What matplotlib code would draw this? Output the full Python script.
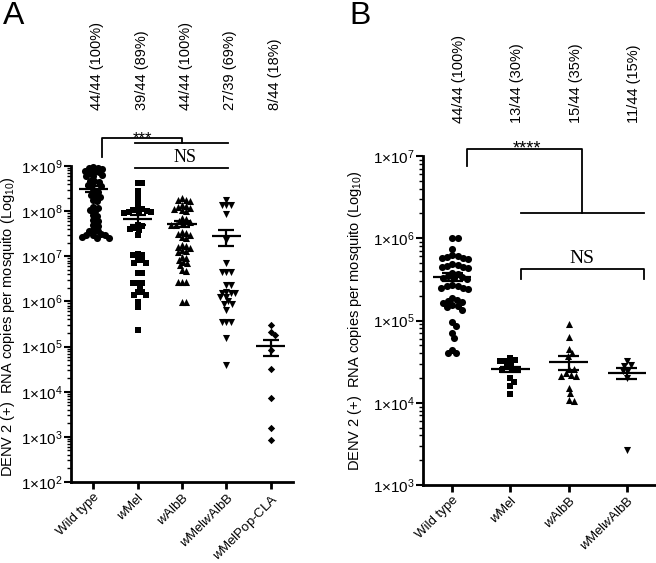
import numpy as np
import matplotlib.pyplot as plt

plt.rcParams['font.family'] = 'Liberation Sans'
plt.rcParams['mathtext.fontset'] = 'custom'
plt.rcParams['mathtext.rm'] = 'Liberation Sans'
plt.rcParams['mathtext.it'] = 'Liberation Sans:italic'

# ---- data (RNA copies per mosquito) ----
groups_a = ['Wild type', r'$\mathit{w}$Mel', r'$\mathit{w}$AlbB', r'$\mathit{w}$Mel$\mathit{w}$AlbB',
            r'$\mathit{w}$MelPop-CLA']
counts_a = ['44/44 (100%)', '39/44 (89%)', '44/44 (100%)', '27/39 (69%)', '8/44 (18%)']

wt_a = [9.4e8, 9.2e8, 9.0e8, 8.8e8, 7.8e8, 7.5e8, 7.3e8, 7.0e8, 6.3e8, 6.1e8, 5.9e8,
        4.7e8, 4.6e8, 4.4e8, 3.8e8, 3.7e8, 3.6e8, 2.8e8, 2.7e8, 2.3e8, 2.2e8, 2.1e8,
        1.8e8, 1.7e8, 1.25e8, 1.2e8, 1.05e8, 1.0e8, 8.1e7, 7.9e7, 6.3e7, 6.1e7,
        4.9e7, 4.8e7, 3.8e7, 3.7e7, 3.6e7, 3.1e7, 3.0e7, 3.0e7, 2.9e7, 2.7e7, 2.6e7, 2.6e7]
wmel_a = [4.2e8, 4.1e8, 2.8e8, 2.1e8, 1.5e8, 1.15e8, 1.1e8, 1.05e8, 1.0e8, 9.8e7, 9.5e7,
          9.2e7, 9.0e7, 4.9e7, 4.6e7, 4.2e7, 4.0e7, 3.8e7, 3.0e7, 1.1e7, 1.05e7, 1.07e7,
          8.3e6, 8.1e6, 7.1e6, 7.0e6, 4.3e6, 4.2e6, 2.6e6, 2.55e6, 2.5e6, 2.1e6, 1.6e6,
          1.58e6, 1.4e6, 1.38e6, 9.5e5, 7.4e5, 2.3e5]
walbb_a = [2.0e8, 1.8e8, 1.75e8, 1.7e8, 1.35e8, 1.3e8, 1.25e8, 1.15e8, 1.1e8, 1.05e8, 1.0e8,
           7.1e7, 6.8e7, 6.0e7, 5.8e7, 5.5e7, 5.0e7, 4.9e7, 3.5e7, 3.3e7, 3.1e7, 2.9e7,
           2.7e7, 2.5e7, 1.8e7, 1.7e7, 1.6e7, 1.5e7, 1.4e7, 1.3e7, 1.25e7, 9.5e6, 9.0e6,
           8.2e6, 7.5e6, 7.0e6, 6.4e6, 4.9e6, 4.8e6, 2.7e6, 2.7e6, 2.7e6, 9.5e5, 9.5e5]
wmelwalbb_a = [1.8e8, 1.4e8, 1.38e8, 1.36e8, 8.7e7, 2.3e7, 7.1e6, 4.5e6, 4.4e6, 4.4e6,
               2.3e6, 2.3e6, 1.6e6, 1.55e6, 1.55e6, 1.5e6, 1.25e6, 1.25e6, 1.0e6, 8.7e5,
               8.7e5, 6.5e5, 3.5e5, 3.5e5, 3.5e5, 1.55e5, 3.9e4]
wmelpop_a = [3.0e5, 2.1e5, 1.85e5, 8.3e4, 3.2e4, 7.2e3, 1.6e3, 8.5e2]

groups_b = ['Wild type', r'$\mathit{w}$Mel', r'$\mathit{w}$AlbB', r'$\mathit{w}$Mel$\mathit{w}$AlbB']
counts_b = ['44/44 (100%)', '13/44 (30%)', '15/44 (35%)', '11/44 (15%)']

wt_b = [1.02e6, 1.0e6, 7.4e5, 6.2e5, 6.0e5, 5.9e5, 5.8e5, 5.7e5, 5.6e5,
        4.8e5, 4.7e5, 4.6e5, 4.5e5, 4.5e5, 4.4e5, 3.8e5, 3.7e5, 3.5e5, 3.4e5, 3.3e5,
        3.3e5, 3.2e5, 2.7e5, 2.6e5, 2.6e5, 2.5e5, 2.5e5, 2.4e5, 1.9e5, 1.8e5, 1.75e5,
        1.7e5, 1.65e5, 1.55e5, 1.5e5, 1.45e5, 1.35e5, 9.6e4, 8.6e4, 7.1e4, 6.2e4,
        4.4e4, 4.0e4, 4.0e4]
wmel_b = [3.5e4, 3.3e4, 3.2e4, 3.2e4, 3.0e4, 2.7e4, 2.6e4, 2.6e4, 2.5e4, 2.0e4, 1.8e4,
          1.6e4, 1.26e4]
walbb_b = [9.1e4, 6.3e4, 4.5e4, 4.0e4, 3.7e4, 2.6e4, 2.6e4, 2.3e4, 2.2e4, 2.1e4, 2.1e4,
           1.5e4, 1.3e4, 1.05e4, 1.07e4]
wmelwalbb_b = [3.2e4, 2.9e4, 2.8e4, 2.5e4, 2.4e4, 2.0e4, 2.7e3]


def swarm(vals, px_dec, px_unit, d, step=0.5):
    # simple beeswarm in pixel space
    y = np.log10(vals) * px_dec
    xs = np.zeros(len(y))
    done = []
    for i in np.argsort(-y):
        off = 0.0
        for k in range(400):
            off = ((k + 1) // 2) * step * (1 if k % 2 else -1)
            if all((off - xs[j]) ** 2 + (y[i] - y[j]) ** 2 >= d * d for j in done):
                break
        xs[i] = off
        done.append(i)
    return xs / px_unit


def draw_group(ax, i, vals, marker, s, px_dec, px_unit, d):
    vals = np.array(vals)
    x = i + swarm(vals, px_dec, px_unit, d)
    ax.scatter(x, vals, marker=marker, s=s, c='k', linewidths=0, zorder=3, clip_on=False)
    m = vals.mean()
    se = vals.std(ddof=1) / np.sqrt(len(vals))
    ax.hlines(m, i - 0.33, i + 0.33, color='k', lw=1.6, zorder=4)
    ax.hlines([m - se, m + se], i - 0.18, i + 0.18, color='k', lw=1.6, zorder=4)
    ax.vlines(i, m - se, m + se, color='k', lw=1.6, zorder=4)


def style_axis(ax, lo, hi, names):
    ax.set_yscale('log')
    ax.set_ylim(lo, hi)
    ax.set_xlim(-0.5, len(names) - 0.5)
    ax.spines['top'].set_visible(False)
    ax.spines['right'].set_visible(False)
    ax.spines['left'].set_linewidth(2)
    ax.spines['bottom'].set_linewidth(2)
    ticks = [10.0 ** k for k in range(int(np.log10(lo)), int(np.log10(hi)) + 1)]
    ax.set_yticks(ticks)
    ax.set_yticklabels(['1×10$^{%d}$' % int(np.log10(t)) for t in ticks], fontsize=11)
    ax.set_xticks(range(len(names)))
    ax.set_xticklabels(names, rotation=45, ha='right', rotation_mode='anchor', fontsize=9.5)
    ax.tick_params(axis='y', which='major', length=5, width=1.5, pad=1)
    ax.tick_params(axis='y', which='minor', length=3, width=1)
    ax.tick_params(axis='x', length=5, width=2, pad=1.5)
    ax.set_ylabel('DENV 2 (+)  RNA copies per mosquito (Log$_{10}$)', fontsize=10.5)


fig = plt.figure(figsize=(6.56, 5.63), dpi=100)

# ---- panel A ----
axA = fig.add_axes([71 / 656, 1 - 482 / 563, 222 / 656, 316 / 563])
style_axis(axA, 1e2, 1e9, groups_a)
axA.yaxis.set_label_coords(-0.245, 0.49)
data_a = [wt_a, wmel_a, walbb_a, wmelwalbb_a, wmelpop_a]
marks_a = [('o', 26), ('s', 22), ('^', 26), ('v', 26), ('D', 14)]
for i, (v, (mk, s)) in enumerate(zip(data_a, marks_a)):
    draw_group(axA, i, v, mk, s, 45.1, 44.45, 4.5)
for i, t in enumerate(counts_a):
    axA.text(i + 0.09, 10 ** 10.24, t, rotation=90, ha='center', va='bottom', fontsize=10.5)

kw = dict(color='k', lw=1.3, clip_on=False)
axA.plot([0.2, 0.2, 2.0, 2.0], [10 ** 9.2, 10 ** 9.62, 10 ** 9.62, 10 ** 9.51], **kw)
axA.plot([0.945, 3.04], [10 ** 9.51, 10 ** 9.51], **kw)
axA.text(1.12, 10 ** 9.5, '***', ha='center', va='baseline', fontsize=12)
axA.plot([0.945, 3.04], [10 ** 8.956, 10 ** 8.956], **kw)
axA.text(2.07, 10 ** 8.99, 'NS', ha='center', va='bottom', fontsize=13, family='Liberation Serif')

# ---- panel B ----
axB = fig.add_axes([423 / 656, 1 - 485 / 563, 233 / 656, 329 / 563])
style_axis(axB, 1e3, 1e7, groups_b)
axB.yaxis.set_label_coords(-0.255, 0.50)
data_b = [wt_b, wmel_b, walbb_b, wmelwalbb_b]
marks_b = [('o', 26), ('s', 22), ('^', 26), ('v', 26)]
for i, (v, (mk, s)) in enumerate(zip(data_b, marks_b)):
    draw_group(axB, i, v, mk, s, 82.0, 58.3, 5.2)
for i, t in enumerate(counts_b):
    axB.text(i + 0.12, 10 ** 7.40, t, rotation=90, ha='center', va='bottom', fontsize=10.5)

axB.plot([0.257, 0.257, 2.23, 2.23], [10 ** 6.878, 10 ** 7.085, 10 ** 7.085, 10 ** 6.305], **kw)
axB.plot([1.18, 3.29], [10 ** 6.305, 10 ** 6.305], **kw)
axB.text(1.29, 10 ** 7.025, '****', ha='center', va='baseline', fontsize=13)
axB.plot([1.18, 1.18, 3.29, 3.29], [10 ** 5.5, 10 ** 5.622, 10 ** 5.622, 10 ** 5.5], **kw)
axB.text(2.23, 10 ** 5.65, 'NS', ha='center', va='bottom', fontsize=14, family='Liberation Serif')

fig.text(3 / 656, 1 - 1 / 563, 'A', fontsize=23, va='top', ha='left')
fig.text(349 / 656, 1 - 1 / 563, 'B', fontsize=23, va='top', ha='left')

fig.savefig('out.png', dpi=100)
